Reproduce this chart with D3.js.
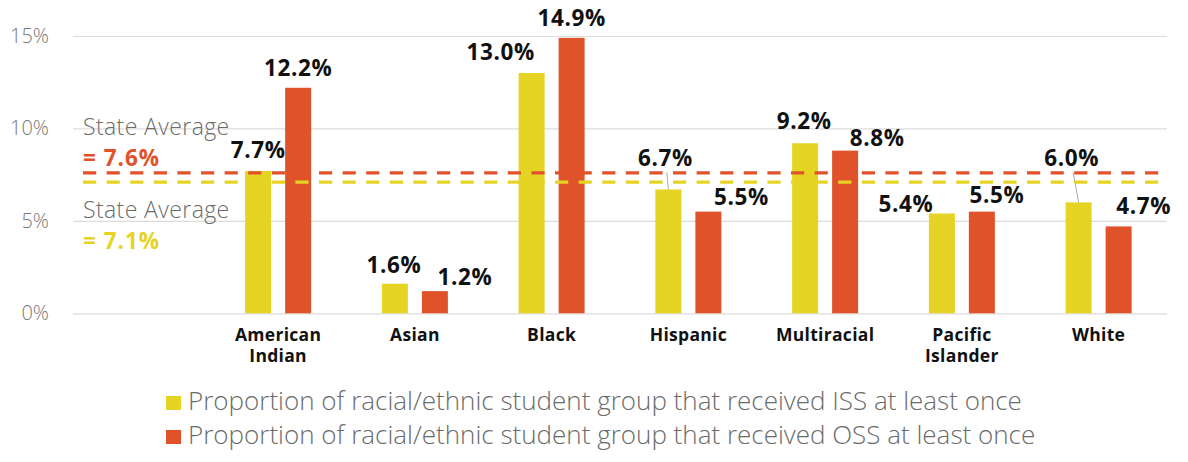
<!DOCTYPE html>
<html>
<head>
<meta charset="utf-8">
<script src="https://cdn.jsdelivr.net/npm/d3@7"></script>
<style>
  html, body { margin: 0; padding: 0; background: #fff; }
  svg { display: block; font-family: "Open Sans", "Lato", sans-serif; }
</style>
</head>
<body>
<svg id="chart" width="1188" height="462"></svg>
<script>
// Student groups and the share of each that received ISS / OSS at least once (%)
const categories = ["American Indian", "Asian", "Black", "Hispanic", "Multiracial", "Pacific Islander", "White"];
const issValues = [7.7, 1.6, 13.0, 6.7, 9.2, 5.4, 6.0];
const ossValues = [12.2, 1.2, 14.9, 5.5, 8.8, 5.5, 4.7];
const seriesKeys = ["ISS", "OSS"];
const seriesNames = [
  "Proportion of racial/ethnic student group that received ISS at least once",
  "Proportion of racial/ethnic student group that received OSS at least once"
];
const stateAverages = [7.1, 7.6];   // ISS, OSS
const yTicks = [0, 5, 10, 15];

// Styling
const colors = { ISS: "#E6D424", OSS: "#E0532A" };
const gridColor = "#dcdcdc";
const grayText = "#6b6b6b";

// Value label nudges [dx, dy from bar top] so labels do not collide
const labelNudge = {
  ISS: [[0, -13], [-1, -11], [-31, -13], [-3, -23.5], [-1, -14], [-36, -1], [-7, -36.5]],
  OSS: [[0, -11.5], [30, -6.5], [0, -11.5], [33, -6.5], [32, -5], [15, -9], [25, -12]]
};

const svg = d3.select("#chart");
const plotLeft = 73, plotRight = 1167, plotTop = 36, plotBottom = 313.3;

// The first band is left empty: it holds the state-average notes
const x = d3.scaleBand().domain(["", ...categories]).range([plotLeft, plotRight]);
const xSub = d3.scaleBand().domain(seriesKeys).range([-33, 33]).paddingInner(0.35);
const y = d3.scaleLinear().domain([0, 15]).range([plotBottom, plotTop]);
const center = c => x(c) + x.bandwidth() / 2;

// Y axis with full-width gridlines
const yAxis = svg.append("g")
  .attr("transform", `translate(${plotLeft},0)`)
  .call(d3.axisLeft(y).tickValues(yTicks).tickFormat(d => d + "%")
    .tickSize(-(plotRight - plotLeft)).tickPadding(24));
yAxis.select(".domain").remove();
yAxis.selectAll(".tick line").attr("stroke", gridColor).attr("stroke-width", 1.2);
yAxis.selectAll(".tick text")
  .attr("fill", "#777").attr("font-size", 20).attr("font-family", "Open Sans")
  .attr("font-weight", 300);

// Bars
const rows = categories.map((c, i) => ({ cat: c, i, ISS: issValues[i], OSS: ossValues[i] }));
const groups = svg.append("g").selectAll("g").data(rows).join("g")
  .attr("transform", d => `translate(${center(d.cat)},0)`);

groups.selectAll("rect")
  .data(d => seriesKeys.map(k => ({ key: k, value: d[k], i: d.i })))
  .join("rect")
  .attr("x", d => xSub(d.key))
  .attr("width", xSub.bandwidth())
  .attr("y", d => y(d.value))
  .attr("height", d => y(0) - y(d.value))
  .attr("fill", d => colors[d.key]);

// Value labels (with leader lines where the label sits far above its bar)
const labels = groups.selectAll("g.vl")
  .data(d => seriesKeys.map(k => ({ key: k, value: d[k], i: d.i })))
  .join("g").attr("class", "vl");

labels.each(function (d) {
  const g = d3.select(this);
  const [dx, dy] = labelNudge[d.key][d.i];
  const bx = xSub(d.key) + xSub.bandwidth() / 2;
  const top = y(d.value);
  const lx = bx + dx, ly = top + dy;
  if (dy < -20) {
    g.append("line")
      .attr("x1", lx + 1.5).attr("y1", ly + 6.5)
      .attr("x2", bx).attr("y2", top)
      .attr("stroke", "#aaa").attr("stroke-width", 1);
  }
  g.append("text")
    .attr("x", lx).attr("y", ly)
    .attr("text-anchor", "middle")
    .attr("font-size", 22.5).attr("font-weight", 700)
    .attr("letter-spacing", 0.6)
    .attr("fill", "#111")
    .text(d3.format(".1f")(d.value) + "%");
});

// Category labels below the axis, one text per line
const catLines = categories.flatMap(c =>
  c.split(" ").map((w, k) => ({ cat: c, word: w, line: k })));
svg.append("g").selectAll("text").data(catLines).join("text")
  .attr("x", d => center(d.cat))
  .attr("y", d => 341 + d.line * 20.5)
  .attr("text-anchor", "middle")
  .attr("font-size", 17.5).attr("font-weight", 700).attr("fill", "#111")
  .attr("letter-spacing", 0.3)
  .text(d => d.word);

// State average dashed lines
const avgLineStart = 83, avgLineEnd = 1160;
const avgOrder = [1, 0]; // OSS above ISS
avgOrder.forEach(k => {
  svg.append("line")
    .attr("x1", avgLineStart).attr("x2", avgLineEnd)
    .attr("y1", y(stateAverages[k])).attr("y2", y(stateAverages[k]))
    .attr("stroke", colors[seriesKeys[k]])
    .attr("stroke-width", 3.2)
    .attr("stroke-dasharray", "13.2,10.4");
});

// State average notes
const notes = svg.append("g");
const ossY = y(stateAverages[1]);
const issY = y(stateAverages[0]);
notes.append("text").attr("x", 83).attr("y", ossY - 38)
  .attr("font-size", 23).attr("letter-spacing", 0.4)
  .attr("fill", grayText).attr("font-weight", 300).text("State Average");
notes.append("text").attr("x", 83).attr("y", ossY - 7)
  .attr("font-size", 22.5).attr("letter-spacing", 1)
  .attr("fill", colors.OSS).attr("font-weight", 700).text("= " + stateAverages[1] + "%");
notes.append("text").attr("x", 83).attr("y", issY + 36)
  .attr("font-size", 23).attr("letter-spacing", 0.4)
  .attr("fill", grayText).attr("font-weight", 300).text("State Average");
notes.append("text").attr("x", 83).attr("y", issY + 67)
  .attr("font-size", 22.5).attr("letter-spacing", 1)
  .attr("fill", colors.ISS).attr("font-weight", 700).text("= " + stateAverages[0] + "%");

// Legend
const legend = svg.append("g").selectAll("g").data(seriesKeys).join("g")
  .attr("transform", (d, i) => `translate(166,${396 + i * 34})`);
legend.append("rect").attr("width", 15).attr("height", 14)
  .attr("fill", d => colors[d]);
legend.append("text").attr("x", 22).attr("y", 13.5)
  .attr("font-size", 26).attr("font-weight", 300).attr("fill", grayText)
  .text((d, i) => seriesNames[i]);
</script>
</body>
</html>
